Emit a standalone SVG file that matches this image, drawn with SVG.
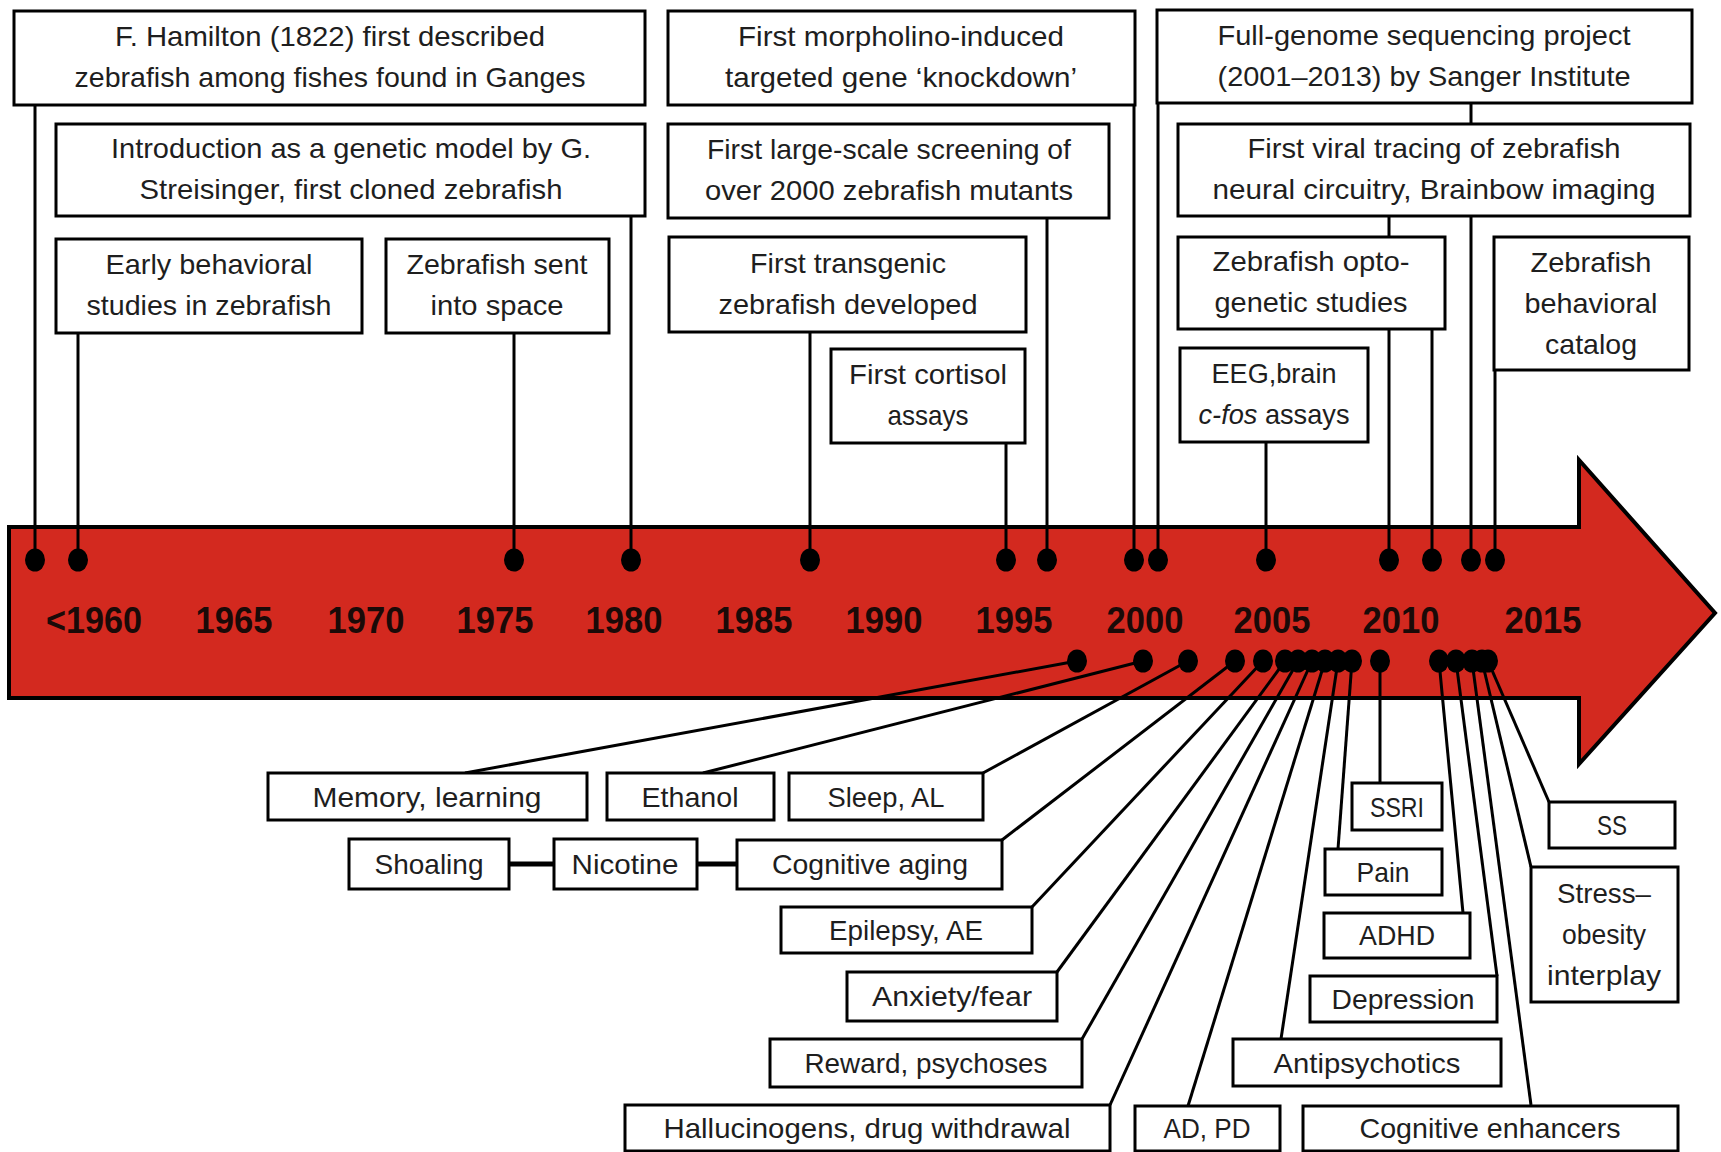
<svg xmlns="http://www.w3.org/2000/svg" width="1721" height="1152" viewBox="0 0 1721 1152">
  <style>
    .box { fill: #ffffff; stroke: #000000; stroke-width: 3; }
    .ln { stroke: #000000; stroke-width: 3; fill: none; }
    .lk { stroke: #000000; stroke-width: 5; fill: none; }
    .dot { fill: #000000; }
    .t { font-family: "Liberation Sans", Arial, sans-serif; font-size: 28px; fill: #1e1e1e; text-anchor: middle; }
    .yr { font-family: "Liberation Sans", Arial, sans-serif; font-weight: bold; font-size: 36px; fill: #1a0a08; text-anchor: middle; }
  </style>
  <defs>
    <ellipse id="dt" cx="0" cy="0" rx="10" ry="11.5"/>
  </defs>

  <rect width="1721" height="1152" fill="#ffffff"/>

  <!-- timeline arrow -->
  <path id="timeline" d="M 9 527 L 1579 527 L 1579 460 L 1715 613 L 1579 764 L 1579 698 L 9 698 Z" fill="#d3291f" stroke="#000000" stroke-width="4" stroke-linejoin="miter"/>

  <!-- connectors -->
  <g id="connectors">
    <!-- upper events -->
    <line class="ln" x1="35" y1="105" x2="35" y2="560"/>
    <line class="ln" x1="631" y1="216" x2="631" y2="560"/>
    <line class="ln" x1="78" y1="333" x2="78" y2="560"/>
    <line class="ln" x1="514" y1="333" x2="514" y2="560"/>
    <line class="ln" x1="1134" y1="105" x2="1134" y2="560"/>
    <line class="ln" x1="1047" y1="218" x2="1047" y2="560"/>
    <line class="ln" x1="810" y1="332" x2="810" y2="560"/>
    <line class="ln" x1="1006" y1="443" x2="1006" y2="560"/>
    <line class="ln" x1="1158" y1="103" x2="1158" y2="560"/>
    <line class="ln" x1="1471" y1="103" x2="1471" y2="560"/>
    <line class="ln" x1="1389" y1="216" x2="1389" y2="560"/>
    <line class="ln" x1="1432" y1="329" x2="1432" y2="560"/>
    <line class="ln" x1="1266" y1="442" x2="1266" y2="560"/>
    <line class="ln" x1="1495" y1="370" x2="1495" y2="560"/>

    <!-- lower research areas -->
    <line class="ln" x1="1077" y1="661" x2="465" y2="773"/>
    <line class="ln" x1="1143" y1="661" x2="703" y2="773"/>
    <line class="ln" x1="1188" y1="661" x2="983" y2="773"/>
    <line class="ln" x1="1235" y1="661" x2="1002" y2="840"/>
    <line class="ln" x1="1263" y1="661" x2="1032" y2="907"/>
    <line class="ln" x1="1285" y1="661" x2="1057" y2="972"/>
    <line class="ln" x1="1298" y1="661" x2="1082" y2="1039"/>
    <line class="ln" x1="1312" y1="661" x2="1110" y2="1105"/>
    <line class="ln" x1="1325" y1="661" x2="1188" y2="1106"/>
    <line class="ln" x1="1338" y1="661" x2="1281" y2="1039"/>
    <line class="ln" x1="1352" y1="661" x2="1338" y2="849"/>
    <line class="ln" x1="1380" y1="661" x2="1380" y2="783"/>
    <line class="ln" x1="1439" y1="661" x2="1463" y2="913"/>
    <line class="ln" x1="1456" y1="661" x2="1497" y2="976"/>
    <line class="ln" x1="1472" y1="661" x2="1531" y2="1105"/>
    <line class="ln" x1="1482" y1="661" x2="1531" y2="867"/>
    <line class="ln" x1="1488" y1="661" x2="1549" y2="802"/>

    <!-- nicotine links -->
    <line class="lk" x1="509" y1="864" x2="554" y2="864"/>
    <line class="lk" x1="697" y1="864" x2="737" y2="864"/>
  </g>

  <!-- upper event boxes -->
  <g id="n-hamilton">
    <rect class="box" x="14" y="11" width="631" height="94"/>
    <text class="t" x="330" y="46" textLength="430" lengthAdjust="spacingAndGlyphs">F. Hamilton (1822) first described</text>
    <text class="t" x="330" y="87" textLength="511" lengthAdjust="spacingAndGlyphs">zebrafish among fishes found in Ganges</text>
  </g>
  <g id="n-introduction">
    <rect class="box" x="56" y="124" width="589" height="92"/>
    <text class="t" x="351" y="158" textLength="480" lengthAdjust="spacingAndGlyphs">Introduction as a genetic model by G.</text>
    <text class="t" x="351" y="199" textLength="423" lengthAdjust="spacingAndGlyphs">Streisinger, first cloned zebrafish</text>
  </g>
  <g id="n-early">
    <rect class="box" x="56" y="239" width="306" height="94"/>
    <text class="t" x="209" y="274" textLength="207" lengthAdjust="spacingAndGlyphs">Early behavioral</text>
    <text class="t" x="209" y="315" textLength="245" lengthAdjust="spacingAndGlyphs">studies in zebrafish</text>
  </g>
  <g id="n-space">
    <rect class="box" x="386" y="239" width="223" height="94"/>
    <text class="t" x="497" y="274" textLength="181" lengthAdjust="spacingAndGlyphs">Zebrafish sent</text>
    <text class="t" x="497" y="315" textLength="133" lengthAdjust="spacingAndGlyphs">into space</text>
  </g>
  <g id="n-morpholino">
    <rect class="box" x="668" y="11" width="467" height="94"/>
    <text class="t" x="901" y="46" textLength="326" lengthAdjust="spacingAndGlyphs">First morpholino-induced</text>
    <text class="t" x="901" y="87" textLength="352" lengthAdjust="spacingAndGlyphs">targeted gene ‘knockdown’</text>
  </g>
  <g id="n-screening">
    <rect class="box" x="668" y="124" width="441" height="94"/>
    <text class="t" x="889" y="159" textLength="364" lengthAdjust="spacingAndGlyphs">First large-scale screening of</text>
    <text class="t" x="889" y="200" textLength="368" lengthAdjust="spacingAndGlyphs">over 2000 zebrafish mutants</text>
  </g>
  <g id="n-transgenic">
    <rect class="box" x="669" y="237" width="357" height="95"/>
    <text class="t" x="848" y="273" textLength="196" lengthAdjust="spacingAndGlyphs">First transgenic</text>
    <text class="t" x="848" y="314" textLength="259" lengthAdjust="spacingAndGlyphs">zebrafish developed</text>
  </g>
  <g id="n-cortisol">
    <rect class="box" x="831" y="349" width="194" height="94"/>
    <text class="t" x="928" y="384" textLength="158" lengthAdjust="spacingAndGlyphs">First cortisol</text>
    <text class="t" x="928" y="425" textLength="81" lengthAdjust="spacingAndGlyphs">assays</text>
  </g>
  <g id="n-genome">
    <rect class="box" x="1157" y="10" width="535" height="93"/>
    <text class="t" x="1424" y="45" textLength="413" lengthAdjust="spacingAndGlyphs">Full-genome sequencing project</text>
    <text class="t" x="1424" y="86" textLength="413" lengthAdjust="spacingAndGlyphs">(2001–2013) by Sanger Institute</text>
  </g>
  <g id="n-viral">
    <rect class="box" x="1178" y="124" width="512" height="92"/>
    <text class="t" x="1434" y="158" textLength="373" lengthAdjust="spacingAndGlyphs">First viral tracing of zebrafish</text>
    <text class="t" x="1434" y="199" textLength="443" lengthAdjust="spacingAndGlyphs">neural circuitry, Brainbow imaging</text>
  </g>
  <g id="n-opto">
    <rect class="box" x="1178" y="237" width="267" height="92"/>
    <text class="t" x="1311" y="271" textLength="197" lengthAdjust="spacingAndGlyphs">Zebrafish opto-</text>
    <text class="t" x="1311" y="312" textLength="193" lengthAdjust="spacingAndGlyphs">genetic studies</text>
  </g>
  <g id="n-eeg">
    <rect class="box" x="1180" y="348" width="188" height="94"/>
    <text class="t" x="1274" y="383" textLength="125" lengthAdjust="spacingAndGlyphs">EEG,brain</text>
    <text class="t" x="1274" y="424" textLength="151" lengthAdjust="spacingAndGlyphs"><tspan font-style="italic">c-fos</tspan> assays</text>
  </g>
  <g id="n-catalog">
    <rect class="box" x="1494" y="237" width="195" height="133"/>
    <text class="t" x="1591" y="272" textLength="121" lengthAdjust="spacingAndGlyphs">Zebrafish</text>
    <text class="t" x="1591" y="313" textLength="133" lengthAdjust="spacingAndGlyphs">behavioral</text>
    <text class="t" x="1591" y="354" textLength="92" lengthAdjust="spacingAndGlyphs">catalog</text>
  </g>

  <!-- lower research-area boxes -->
  <g id="n-memory">
    <rect class="box" x="268" y="773" width="319" height="47"/>
    <text class="t" x="427" y="807" textLength="229" lengthAdjust="spacingAndGlyphs">Memory, learning</text>
  </g>
  <g id="n-ethanol">
    <rect class="box" x="607" y="773" width="167" height="47"/>
    <text class="t" x="690" y="807" textLength="97" lengthAdjust="spacingAndGlyphs">Ethanol</text>
  </g>
  <g id="n-sleep">
    <rect class="box" x="789" y="773" width="194" height="47"/>
    <text class="t" x="886" y="807" textLength="117" lengthAdjust="spacingAndGlyphs">Sleep, AL</text>
  </g>
  <g id="n-shoaling">
    <rect class="box" x="349" y="839" width="160" height="50"/>
    <text class="t" x="429" y="874" textLength="109" lengthAdjust="spacingAndGlyphs">Shoaling</text>
  </g>
  <g id="n-nicotine">
    <rect class="box" x="554" y="839" width="143" height="50"/>
    <text class="t" x="625" y="874" textLength="107" lengthAdjust="spacingAndGlyphs">Nicotine</text>
  </g>
  <g id="n-cogaging">
    <rect class="box" x="737" y="840" width="265" height="49"/>
    <text class="t" x="870" y="874" textLength="196" lengthAdjust="spacingAndGlyphs">Cognitive aging</text>
  </g>
  <g id="n-epilepsy">
    <rect class="box" x="781" y="907" width="251" height="46"/>
    <text class="t" x="906" y="940" textLength="154" lengthAdjust="spacingAndGlyphs">Epilepsy, AE</text>
  </g>
  <g id="n-anxiety">
    <rect class="box" x="847" y="972" width="210" height="49"/>
    <text class="t" x="952" y="1006" textLength="160" lengthAdjust="spacingAndGlyphs">Anxiety/fear</text>
  </g>
  <g id="n-reward">
    <rect class="box" x="770" y="1039" width="312" height="48"/>
    <text class="t" x="926" y="1073" textLength="243" lengthAdjust="spacingAndGlyphs">Reward, psychoses</text>
  </g>
  <g id="n-hallucinogens">
    <rect class="box" x="625" y="1105" width="485" height="46"/>
    <text class="t" x="867" y="1138" textLength="407" lengthAdjust="spacingAndGlyphs">Hallucinogens, drug withdrawal</text>
  </g>
  <g id="n-adpd">
    <rect class="box" x="1135" y="1106" width="145" height="45"/>
    <text class="t" x="1207" y="1138" textLength="87" lengthAdjust="spacingAndGlyphs">AD, PD</text>
  </g>
  <g id="n-enhancers">
    <rect class="box" x="1303" y="1106" width="375" height="45"/>
    <text class="t" x="1490" y="1138" textLength="261" lengthAdjust="spacingAndGlyphs">Cognitive enhancers</text>
  </g>
  <g id="n-antipsychotics">
    <rect class="box" x="1233" y="1039" width="268" height="47"/>
    <text class="t" x="1367" y="1073" textLength="187" lengthAdjust="spacingAndGlyphs">Antipsychotics</text>
  </g>
  <g id="n-depression">
    <rect class="box" x="1310" y="976" width="187" height="46"/>
    <text class="t" x="1403" y="1009" textLength="143" lengthAdjust="spacingAndGlyphs">Depression</text>
  </g>
  <g id="n-adhd">
    <rect class="box" x="1324" y="913" width="146" height="45"/>
    <text class="t" x="1397" y="945" textLength="76" lengthAdjust="spacingAndGlyphs">ADHD</text>
  </g>
  <g id="n-pain">
    <rect class="box" x="1325" y="849" width="117" height="46"/>
    <text class="t" x="1383" y="882" textLength="53" lengthAdjust="spacingAndGlyphs">Pain</text>
  </g>
  <g id="n-ssri">
    <rect class="box" x="1352" y="783" width="90" height="47"/>
    <text class="t" x="1397" y="817" textLength="54" lengthAdjust="spacingAndGlyphs">SSRI</text>
  </g>
  <g id="n-ss">
    <rect class="box" x="1549" y="802" width="126" height="46"/>
    <text class="t" x="1612" y="835" textLength="30" lengthAdjust="spacingAndGlyphs">SS</text>
  </g>
  <g id="n-stress">
    <rect class="box" x="1531" y="867" width="147" height="135"/>
    <text class="t" x="1604" y="903" textLength="94" lengthAdjust="spacingAndGlyphs">Stress–</text>
    <text class="t" x="1604" y="944" textLength="84" lengthAdjust="spacingAndGlyphs">obesity</text>
    <text class="t" x="1604" y="985" textLength="114" lengthAdjust="spacingAndGlyphs">interplay</text>
  </g>

  <!-- event dots on the timeline -->
  <g id="dots" class="dot">
    <use href="#dt" x="35" y="560"/>
    <use href="#dt" x="78" y="560"/>
    <use href="#dt" x="514" y="560"/>
    <use href="#dt" x="631" y="560"/>
    <use href="#dt" x="810" y="560"/>
    <use href="#dt" x="1006" y="560"/>
    <use href="#dt" x="1047" y="560"/>
    <use href="#dt" x="1134" y="560"/>
    <use href="#dt" x="1158" y="560"/>
    <use href="#dt" x="1266" y="560"/>
    <use href="#dt" x="1389" y="560"/>
    <use href="#dt" x="1432" y="560"/>
    <use href="#dt" x="1471" y="560"/>
    <use href="#dt" x="1495" y="560"/>

    <use href="#dt" x="1077" y="661"/>
    <use href="#dt" x="1143" y="661"/>
    <use href="#dt" x="1188" y="661"/>
    <use href="#dt" x="1235" y="661"/>
    <use href="#dt" x="1263" y="661"/>
    <use href="#dt" x="1285" y="661"/>
    <use href="#dt" x="1298" y="661"/>
    <use href="#dt" x="1312" y="661"/>
    <use href="#dt" x="1325" y="661"/>
    <use href="#dt" x="1338" y="661"/>
    <use href="#dt" x="1352" y="661"/>
    <use href="#dt" x="1380" y="661"/>
    <use href="#dt" x="1439" y="661"/>
    <use href="#dt" x="1456" y="661"/>
    <use href="#dt" x="1472" y="661"/>
    <use href="#dt" x="1482" y="661"/>
    <use href="#dt" x="1488" y="661"/>
  </g>

  <!-- year scale -->
  <g id="years">
    <text class="yr" x="94" y="633" textLength="96" lengthAdjust="spacingAndGlyphs">&lt;1960</text>
    <text class="yr" x="234" y="633" textLength="77" lengthAdjust="spacingAndGlyphs">1965</text>
    <text class="yr" x="366" y="633" textLength="77" lengthAdjust="spacingAndGlyphs">1970</text>
    <text class="yr" x="495" y="633" textLength="77" lengthAdjust="spacingAndGlyphs">1975</text>
    <text class="yr" x="624" y="633" textLength="77" lengthAdjust="spacingAndGlyphs">1980</text>
    <text class="yr" x="754" y="633" textLength="77" lengthAdjust="spacingAndGlyphs">1985</text>
    <text class="yr" x="884" y="633" textLength="77" lengthAdjust="spacingAndGlyphs">1990</text>
    <text class="yr" x="1014" y="633" textLength="77" lengthAdjust="spacingAndGlyphs">1995</text>
    <text class="yr" x="1145" y="633" textLength="77" lengthAdjust="spacingAndGlyphs">2000</text>
    <text class="yr" x="1272" y="633" textLength="77" lengthAdjust="spacingAndGlyphs">2005</text>
    <text class="yr" x="1401" y="633" textLength="77" lengthAdjust="spacingAndGlyphs">2010</text>
    <text class="yr" x="1543" y="633" textLength="77" lengthAdjust="spacingAndGlyphs">2015</text>
  </g>
</svg>
